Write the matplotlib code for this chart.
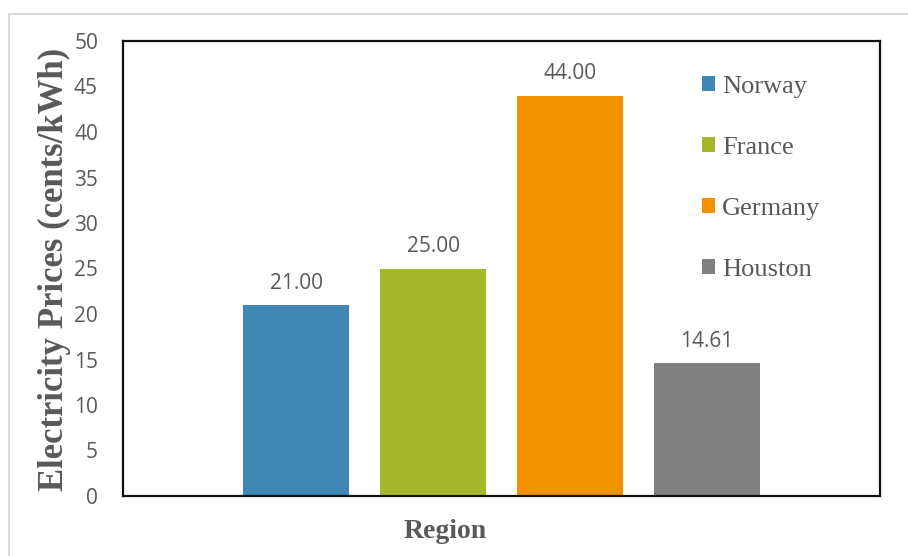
import matplotlib
matplotlib.use("Agg")
import matplotlib.pyplot as plt
from matplotlib.patches import Rectangle
import numpy as np

# electricity prices by region, cents/kWh
regions = ["Norway", "France", "Germany", "Houston"]
prices = [21.00, 25.00, 44.00, 14.61]
colours = ["#4088B3", "#A5B72A", "#F39200", "#808080"]
yticks = list(range(0, 51, 5))

text_grey = "#595959"
sans = ["Open Sans", "DejaVu Sans"]
serif = ["Liberation Serif", "DejaVu Serif"]

fig = plt.figure(figsize=(9.08, 5.56), dpi=100)
ax = fig.add_axes([123 / 908, 1 - 496 / 556, 757 / 908, 455 / 556])

x = np.arange(len(regions))
bars = ax.bar(x, prices, width=0.78, color=colours, label=regions, zorder=2)

for xi, val in zip(x, prices):
    ax.annotate(f"{val:.2f}", (xi, val), xytext=(0, 8), textcoords="offset points",
                ha="center", va="bottom", fontsize=15, family=sans, color=text_grey)

ax.set_xlim(-1.263, 4.263)
ax.set_ylim(0, 50)
ax.set_xticks([])
ax.set_yticks(yticks)
ax.set_yticklabels([str(t) for t in yticks], family=sans, fontsize=15, color=text_grey)
ax.tick_params(axis="y", length=0, pad=18)
for s in ax.spines.values():
    s.set_linewidth(1.6)
    s.set_color("#111111")

leg = ax.legend(handles=list(bars), labels=regions, loc="center left",
                bbox_to_anchor=(0.765, 0.698), frameon=False,
                prop={"family": serif, "size": 19}, labelcolor=text_grey,
                handlelength=0.5, handleheight=0.5, handletextpad=0.25,
                labelspacing=1.48, borderpad=0, borderaxespad=0)

fig.text(54 / 908, 1 - 269 / 556, "Electricity Prices (cents/kWh)", rotation=90,
         ha="center", va="center", family=serif, fontsize=25, fontweight="bold",
         color=text_grey)
fig.text(445 / 908, 1 - 531 / 556, "Region", ha="center", va="center",
         family=serif, fontsize=20, fontweight="bold", color=text_grey)

# light frame around the chart area
fig.patches.append(Rectangle((9 / 908, -0.05), 1.05, 1 - 14 / 556 + 0.05,
                             transform=fig.transFigure, fill=False,
                             edgecolor="#d9d9d9", linewidth=1.5))

fig.savefig("out.png", dpi=100)
